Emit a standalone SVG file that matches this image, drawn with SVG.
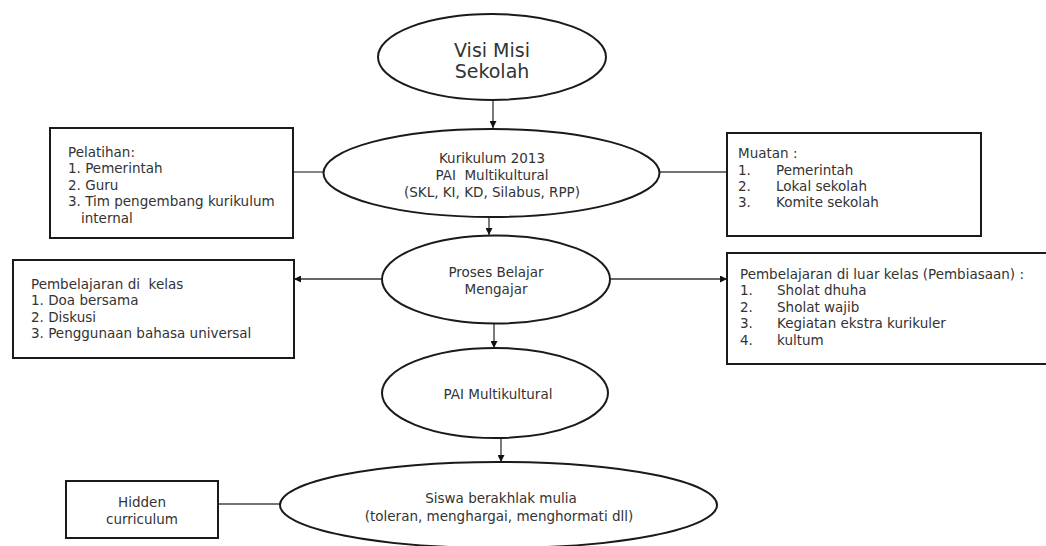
<svg xmlns="http://www.w3.org/2000/svg" width="1046" height="546" viewBox="0 0 1046 546">
<style>
.bg{fill:#ffffff}
.node{fill:#ffffff;stroke:#1a1a1a;stroke-width:2}
.box{fill:#ffffff;stroke:#1a1a1a;stroke-width:2}
.t{font-family:"DejaVu Sans","Liberation Sans",sans-serif;font-size:13.5px;fill:#333333}
.c{text-anchor:middle}
.big{font-size:19px}
.link{stroke:#444444;stroke-width:1.3;fill:none}
.arr{stroke:#333333;stroke-width:1.3;fill:none;marker-end:url(#ah)}
</style>
<defs>
<marker id="ah" viewBox="0 0 10 10" refX="10" refY="5" markerWidth="7" markerHeight="7" markerUnits="userSpaceOnUse" orient="auto">
<path d="M0,0 L10,5 L0,10 z" fill="#111111"/>
</marker>
</defs>
<rect class="bg" x="0" y="0" width="1046" height="546"/>

<g id="connectors">
<line class="arr" x1="493" y1="100" x2="493" y2="128"/>
<line class="arr" x1="489" y1="217" x2="489" y2="235"/>
<line class="arr" x1="494" y1="323" x2="494" y2="348"/>
<line class="arr" x1="501" y1="438" x2="501" y2="462"/>
<line class="link" x1="293" y1="172" x2="324" y2="172"/>
<line class="link" x1="659" y1="172" x2="727" y2="172"/>
<line class="arr" x1="382" y1="279" x2="294" y2="279"/>
<line class="arr" x1="610" y1="279" x2="727" y2="279"/>
<line class="link" x1="218" y1="504" x2="280" y2="504"/>
</g>

<g id="visi-misi">
<ellipse class="node" cx="492" cy="57" rx="114" ry="43"/>
<text class="t c big" x="492" y="57">Visi Misi</text>
<text class="t c big" x="492" y="78">Sekolah</text>
</g>

<g id="kurikulum">
<ellipse class="node" cx="491.5" cy="173" rx="168" ry="44"/>
<text class="t c" x="492" y="163">Kurikulum 2013</text>
<text class="t c" x="492" y="180" xml:space="preserve">PAI  Multikultural</text>
<text class="t c" x="492" y="197">(SKL, KI, KD, Silabus, RPP)</text>
</g>

<g id="pelatihan">
<rect class="box" x="50" y="128" width="243" height="110"/>
<text class="t" x="68" y="157">Pelatihan:</text>
<text class="t" x="68" y="173">1. Pemerintah</text>
<text class="t" x="68" y="190">2. Guru</text>
<text class="t" x="68" y="206">3. Tim pengembang kurikulum</text>
<text class="t" x="81" y="223">internal</text>
</g>

<g id="muatan">
<rect class="box" x="727" y="133" width="254" height="103"/>
<text class="t" x="738" y="158">Muatan :</text>
<text class="t" x="738" y="175">1.</text><text class="t" x="776" y="175">Pemerintah</text>
<text class="t" x="738" y="191">2.</text><text class="t" x="776" y="191">Lokal sekolah</text>
<text class="t" x="738" y="207">3.</text><text class="t" x="776" y="207">Komite sekolah</text>
</g>

<g id="proses">
<ellipse class="node" cx="496" cy="279.5" rx="114" ry="44"/>
<text class="t c" x="496" y="277">Proses Belajar</text>
<text class="t c" x="496" y="294">Mengajar</text>
</g>

<g id="kelas">
<rect class="box" x="13" y="260" width="281" height="98"/>
<text class="t" x="31" y="289" xml:space="preserve">Pembelajaran di  kelas</text>
<text class="t" x="31" y="305">1. Doa bersama</text>
<text class="t" x="31" y="322">2. Diskusi</text>
<text class="t" x="31" y="338">3. Penggunaan bahasa universal</text>
</g>

<g id="luar-kelas">
<rect class="box" x="727" y="253" width="330" height="111"/>
<text class="t" x="740" y="279">Pembelajaran di luar kelas (Pembiasaan) :</text>
<text class="t" x="740" y="295">1.</text><text class="t" x="777" y="295">Sholat dhuha</text>
<text class="t" x="740" y="312">2.</text><text class="t" x="777" y="312">Sholat wajib</text>
<text class="t" x="740" y="328">3.</text><text class="t" x="777" y="328">Kegiatan ekstra kurikuler</text>
<text class="t" x="740" y="345">4.</text><text class="t" x="777" y="345">kultum</text>
</g>

<g id="pai">
<ellipse class="node" cx="495" cy="393" rx="113" ry="45"/>
<text class="t c" x="498" y="399">PAI Multikultural</text>
</g>

<g id="siswa">
<ellipse class="node" cx="498.5" cy="505" rx="218.5" ry="43"/>
<text class="t c" x="501" y="503">Siswa berakhlak mulia</text>
<text class="t c" x="499" y="521">(toleran, menghargai, menghormati dll)</text>
</g>

<g id="hidden">
<rect class="box" x="66" y="481" width="152" height="57"/>
<text class="t c" x="142" y="507">Hidden</text>
<text class="t c" x="142" y="524">curriculum</text>
</g>
</svg>
